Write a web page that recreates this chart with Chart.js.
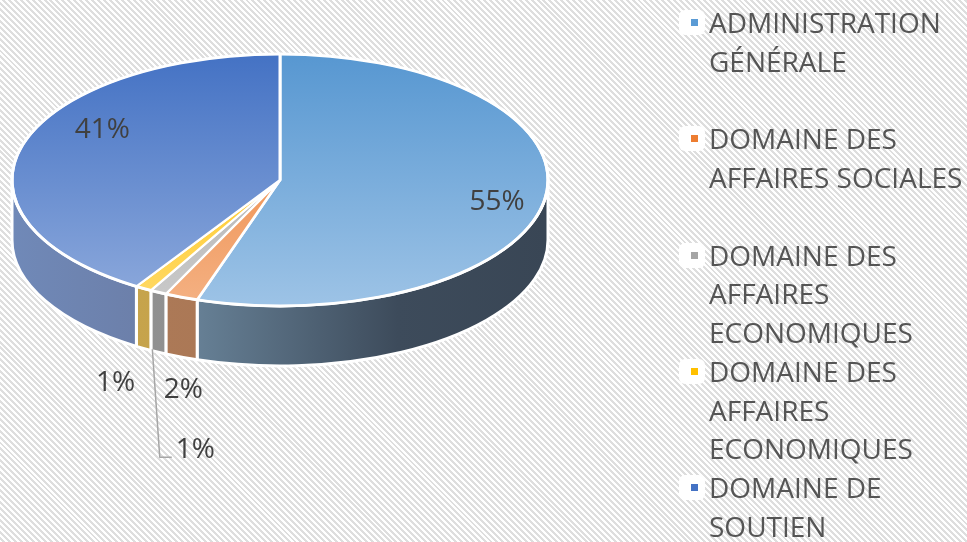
<!DOCTYPE html>
<html>
<head>
<meta charset="utf-8">
<script src="https://cdn.jsdelivr.net/npm/chart.js@4/dist/chart.umd.min.js"></script>
<style>
  html, body { margin: 0; padding: 0; width: 967px; height: 542px; overflow: hidden; }
  body {
    background: repeating-linear-gradient(45deg, #ffffff 0px, #ffffff 2.1px, #dedede 2.1px, #dedede 4.2px);
    font-family: "Open Sans", "DejaVu Sans", sans-serif;
  }
  #chart { position: absolute; left: 0; top: 0; }
  #legend { position: absolute; left: 690px; top: 3px; width: 275px; }
  .item { position: relative; padding-left: 19px; font-size: 28px; line-height: 38.75px; color: #555555; }
  .item .bg { position: absolute; left: -11px; top: 7px; width: 26px; height: 25px; background: #ffffff; border-radius: 6px; }
  .item .mk { position: absolute; left: 1px; top: 16px; width: 7px; height: 7px; }
</style>
</head>
<body>
<canvas id="chart" width="967" height="542"></canvas>
<div id="legend"></div>
<script>
// ---- data ----
const categories = [
  'ADMINISTRATION GÉNÉRALE',
  'DOMAINE DES AFFAIRES SOCIALES',
  'DOMAINE DES AFFAIRES ECONOMIQUES',
  'DOMAINE DES AFFAIRES ECONOMIQUES',
  'DOMAINE DE SOUTIEN'
];
const values = [55, 2, 1, 1, 41];

// ---- styles ----
const topColors  = [['#5797d1', '#9dc3e6'], ['#ed7d31', '#f4b183'], ['#a5a5a5', '#cacaca'], ['#ffc000', '#ffd966'], ['#4472c4', '#8eaadc']];
const sideColors = [
  [[0, '#8aa2b8'], [0.3, '#6b869c'], [0.72, '#3d4b5b'], [1, '#394655']],
  [[0, '#b07d5a'], [1, '#a26f4e']],
  [[0, '#939393'], [1, '#8a8a8a']],
  [[0, '#c8a64e'], [1, '#bf9c44']],
  [[0, '#7089b8'], [0.25, '#6c7fa9'], [1, '#6c7fa9']]
];
const markerColors = ['#5b9bd5', '#ed7d31', '#a5a5a5', '#ffc000', '#4472c4'];
const legendGapAfter = [1, 1, 0, 0, 0];
const RADIUS = 268, SQUASH = 0.47, DEPTH = 60;
const labelPlace = [
  { inside: true, f: 0.82, dx: 0, dy: 6 },
  { inside: false, dx: 2, dy: 33 },
  { inside: false, dx: 37, dy: 98, leader: true },
  { inside: false, dx: -28, dy: 35 },
  { inside: true, f: 0.69, dx: 0, dy: -26 }
];
const LABEL_FONT = '28px "Open Sans", "DejaVu Sans", sans-serif';

const total = values.reduce((a, b) => a + b, 0);
const pctLabels = values.map(v => Math.round(v / total * 100) + '%');

// ---- legend (html) ----
const legendEl = document.getElementById('legend');
categories.forEach((c, i) => {
  const d = document.createElement('div');
  d.className = 'item';
  d.style.marginBottom = (legendGapAfter[i] * 38.75) + 'px';
  d.innerHTML = '<span class="bg"></span><span class="mk" style="background:' + markerColors[i] + '"></span>' + c;
  legendEl.appendChild(d);
});

function topFill(context) {
  const chart = context.chart;
  const area = chart.chartArea;
  const c = topColors[context.dataIndex];
  if (!area) return c[0];
  const cy = (area.top + area.bottom) / 2;
  const g = chart.ctx.createLinearGradient(0, cy - RADIUS, 0, cy + RADIUS);
  g.addColorStop(0, c[0]);
  g.addColorStop(1, c[1]);
  return g;
}

function visibleRanges(s, e) {
  const out = [];
  for (let n = -1; n <= 1; n++) {
    const lo = Math.max(s, n * 2 * Math.PI), hi = Math.min(e, n * 2 * Math.PI + Math.PI);
    if (hi > lo) out.push([lo, hi]);
  }
  return out;
}

const pie3d = {
  id: 'pie3d',
  beforeDatasetsDraw(chart) {
    const ctx = chart.ctx;
    const arcs = chart.getDatasetMeta(0).data;
    const cx = arcs[0].x, cy = arcs[0].y, R = arcs[0].outerRadius, ry = R * SQUASH;
    // side walls
    arcs.forEach((a, i) => {
      visibleRanges(a.startAngle, a.endAngle).forEach(([a1, a2]) => {
        ctx.beginPath();
        ctx.ellipse(cx, cy, R, ry, 0, a1, a2, false);
        ctx.lineTo(cx + R * Math.cos(a2), cy + ry * Math.sin(a2) + DEPTH);
        ctx.ellipse(cx, cy + DEPTH, R, ry, 0, a2, a1, true);
        ctx.closePath();
        const g = ctx.createLinearGradient(cx - R, 0, cx + R, 0);
        sideColors[i].forEach(([t, col]) => g.addColorStop(t, col));
        ctx.fillStyle = g;
        ctx.fill();
        ctx.strokeStyle = '#ffffff';
        ctx.lineWidth = 3;
        ctx.lineJoin = 'round';
        ctx.stroke();
      });
    });
    ctx.save();
    ctx.translate(cx, cy);
    ctx.scale(1, SQUASH);
    ctx.translate(-cx, -cy);
  },
  afterDatasetsDraw(chart) {
    const ctx = chart.ctx;
    ctx.restore();
    const arcs = chart.getDatasetMeta(0).data;
    const cx = arcs[0].x, cy = arcs[0].y, R = arcs[0].outerRadius, ry = R * SQUASH;
    // outer top outline
    ctx.beginPath();
    ctx.ellipse(cx, cy, R, ry, 0, 0, Math.PI * 2);
    ctx.strokeStyle = '#ffffff';
    ctx.lineWidth = 3;
    ctx.stroke();
    // labels
    ctx.font = LABEL_FONT;
    ctx.fillStyle = '#404040';
    ctx.textAlign = 'center';
    ctx.textBaseline = 'middle';
    arcs.forEach((a, i) => {
      const m = (a.startAngle + a.endAngle) / 2;
      const p = labelPlace[i];
      let ax, ay;
      if (p.inside) {
        ax = cx + R * p.f * Math.cos(m);
        ay = cy + ry * p.f * Math.sin(m);
      } else {
        ax = cx + R * Math.cos(m);
        ay = cy + ry * Math.sin(m) + DEPTH;
      }
      const lx = ax + p.dx, ly = ay + p.dy;
      if (p.leader) {
        const w = ctx.measureText(pctLabels[i]).width;
        const ex = lx - w / 2 - 4, ey = ly + 7;
        ctx.beginPath();
        ctx.moveTo(ax - 6, ay - 3);
        ctx.lineTo(ex - 12, ey);
        ctx.lineTo(ex, ey);
        ctx.strokeStyle = '#a6a6a6';
        ctx.lineWidth = 1.5;
        ctx.stroke();
      }
      ctx.fillText(pctLabels[i], lx, ly);
    });
  }
};

new Chart(document.getElementById('chart'), {
  type: 'pie',
  data: {
    labels: categories,
    datasets: [{
      data: values,
      backgroundColor: topFill,
      borderColor: '#ffffff',
      borderWidth: 3,
      radius: RADIUS,
      clip: false
    }]
  },
  options: {
    responsive: false,
    animation: false,
    events: [],
    layout: { padding: { left: 12, right: 419, top: 60, bottom: 242 } },
    plugins: { legend: { display: false }, tooltip: { enabled: false } }
  },
  plugins: [pie3d]
});
</script>
</body>
</html>
